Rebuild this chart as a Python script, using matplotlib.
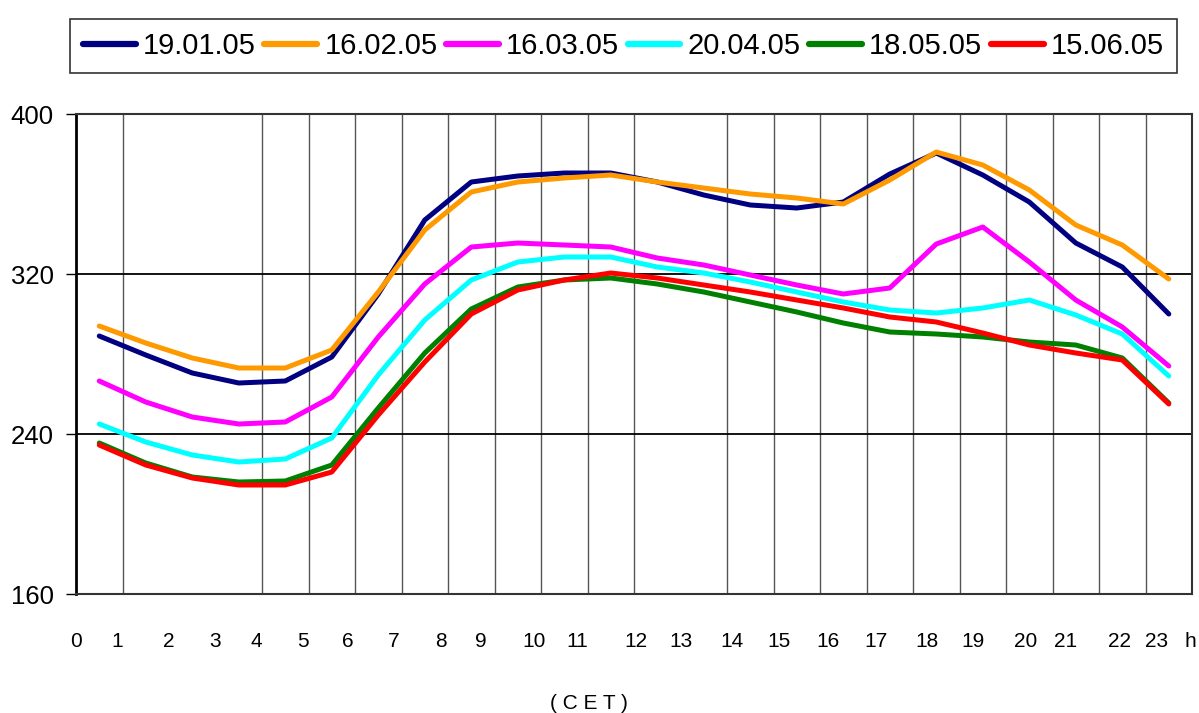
import matplotlib
matplotlib.use("Agg")
import matplotlib.pyplot as plt

plt.rcParams['font.family'] = ['Liberation Sans', 'DejaVu Sans']

# hourly values, plotted at the middle of each hour (0.5 ... 23.5)
hours = [h + 0.5 for h in range(24)]

dates = ['19.01.05', '16.02.05', '16.03.05', '20.04.05', '18.05.05', '15.06.05']
colors = ['#000080', '#FF9900', '#FF00FF', '#00FFFF', '#008000', '#FF0000']

jan = [289, 279.5, 270.5, 265.5, 266.5, 278.5, 310, 347, 366, 369, 370.5, 370.5,
       366, 359.5, 354.5, 353, 356, 370, 380.5, 369.5, 356, 335.5, 323.5, 300]
feb = [294, 285.5, 278, 273, 273, 282, 311, 342, 361, 366, 368, 369.5,
       366, 363, 360, 358, 355, 367, 381, 374.5, 362, 344.5, 334.5, 317.5]
mar = [266.5, 256, 248.5, 245, 246, 258.5, 288.5, 315, 333.5, 335.5, 334.5, 333.5,
       328, 324.5, 319.5, 314.5, 310, 313, 335, 343.5, 326, 307, 293.5, 274]
apr = [245, 236, 229.5, 226, 227.5, 238, 269.5, 297, 317, 326, 328.5, 328.5,
       323.5, 320.5, 316, 311, 306, 302, 300.5, 303, 307, 299.5, 290, 269]
may = [235.5, 225.5, 218.5, 216, 216.5, 224.5, 253, 280.5, 302.5, 313.5, 317, 318,
       315, 311, 306, 301, 295.5, 291, 290, 288.5, 286, 284.5, 278, 255.5]
jun = [234.5, 224.5, 218, 214.5, 214.5, 221, 249.5, 276, 300, 312, 317, 320.5,
       318, 314.5, 311, 307, 303, 298.5, 296, 290.5, 284.5, 280.5, 277, 255]
series = [jan, feb, mar, apr, may, jun]

yticks = [160, 240, 320, 400]
xlabels = [str(i) for i in range(24)] + ['h']
xlabel_pos = [0.01, 0.89, 2.0, 3.0, 3.87, 4.88, 5.85, 6.83, 7.84, 8.71, 9.86, 10.77,
              12.05, 13.0, 14.11, 15.12, 16.18, 17.2, 18.31, 19.28, 20.43, 21.28,
              22.43, 23.24, 23.96]

fig = plt.figure(figsize=(11.99, 7.13), dpi=100)
ax = fig.add_axes([0.0634, 0.1669, 0.9308, 0.6732])

for vals, lab, col in zip(series, dates, colors):
    ax.plot(hours, vals, color=col, lw=3.6, label=lab, solid_capstyle='round',
            solid_joinstyle='round')

ax.set_xlim(0, 24)
ax.set_ylim(160, 400)
ax.set_yticks(yticks)
ax.tick_params(axis='y', labelsize=18.5, length=7, width=1, direction='out', pad=9)
ax.yaxis.grid(True, color='black', lw=1.3)

ax.set_xticks(xlabel_pos)
ax.set_xticklabels(xlabels)
ax.set_xticks(range(1, 24), minor=True)
ax.tick_params(axis='x', which='both', length=0, labelsize=15, pad=27)
ax.xaxis.grid(True, which='minor', color='#555555', lw=1)
ax.set_axisbelow(True)

for side in ['top', 'right', 'bottom']:
    ax.spines[side].set_color('#333333')
    ax.spines[side].set_linewidth(1.5)
ax.spines['left'].set_color('black')
ax.spines['left'].set_linewidth(2)

fig.text(0.491, 0.014, '( C E T )', fontsize=15, ha='center', va='center')

leg = fig.legend(loc='center', bbox_to_anchor=(0.520, 0.935), ncol=6,
                 fontsize=21, frameon=True, fancybox=False, edgecolor='black',
                 handlelength=1.8, handletextpad=0.25, columnspacing=0.3,
                 borderpad=0.45, borderaxespad=0)
leg.get_frame().set_linewidth(1.2)
for line in leg.get_lines():
    line.set_linewidth(4.5)

fig.savefig('out.png', dpi=100)
